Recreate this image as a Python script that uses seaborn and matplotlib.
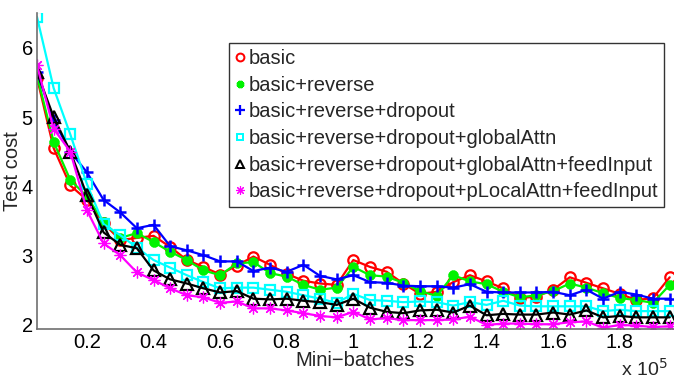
import numpy as np
import pandas as pd
import matplotlib
matplotlib.use("Agg")
import matplotlib.pyplot as plt
import seaborn as sns
from matplotlib.lines import Line2D

sns.set_style("white")
plt.rcParams['font.family'] = ['Liberation Sans', 'DejaVu Sans']

# Mini-batches (x 10^5)
batches = [round(0.05 * i, 2) for i in range(1, 40)]

basic = [5.57, 4.55, 4.01, 3.80, 3.46, 3.22, 3.25, 3.28, 3.12, 2.93, 2.83, 2.72, 2.85,
         2.98, 2.86, 2.73, 2.63, 2.59, 2.57, 2.93, 2.83, 2.76, 2.59, 2.44, 2.47, 2.61,
         2.71, 2.62, 2.52, 2.38, 2.40, 2.50, 2.68, 2.60, 2.52, 2.44, 2.35, 2.38, 2.68]
reverse = [5.60, 4.64, 4.09, 3.85, 3.48, 3.25, 3.32, 3.19, 3.05, 2.93, 2.78, 2.71, 2.88,
           2.90, 2.74, 2.69, 2.57, 2.50, 2.53, 2.83, 2.71, 2.69, 2.60, 2.48, 2.41, 2.71,
           2.62, 2.58, 2.47, 2.39, 2.42, 2.48, 2.59, 2.53, 2.45, 2.38, 2.35, 2.31, 2.57]
dropout = [5.65, 4.95, 4.50, 4.20, 3.80, 3.62, 3.39, 3.44, 3.13, 3.07, 3.00, 2.91, 2.91,
           2.77, 2.82, 2.76, 2.86, 2.70, 2.65, 2.71, 2.61, 2.60, 2.56, 2.55, 2.55, 2.53,
           2.58, 2.47, 2.46, 2.46, 2.46, 2.47, 2.42, 2.50, 2.37, 2.47, 2.43, 2.37, 2.37]
global_attn = [6.45, 5.42, 4.75, 4.03, 3.45, 3.29, 3.11, 2.93, 2.82, 2.71, 2.61, 2.52, 2.53,
               2.53, 2.50, 2.47, 2.42, 2.37, 2.31, 2.44, 2.35, 2.34, 2.32, 2.33, 2.32, 2.27,
               2.32, 2.28, 2.34, 2.27, 2.26, 2.26, 2.26, 2.26, 2.19, 2.21, 2.19, 2.19, 2.19]
global_feed = [5.65, 5.00, 4.50, 3.87, 3.33, 3.15, 3.10, 2.78, 2.65, 2.59, 2.52, 2.46, 2.48,
               2.37, 2.36, 2.37, 2.34, 2.32, 2.28, 2.37, 2.24, 2.18, 2.16, 2.20, 2.21, 2.17,
               2.27, 2.13, 2.15, 2.14, 2.14, 2.17, 2.14, 2.20, 2.10, 2.12, 2.10, 2.10, 2.10]
plocal_feed = [5.75, 4.83, 4.50, 3.65, 3.17, 3.00, 2.75, 2.64, 2.52, 2.42, 2.39, 2.31, 2.33,
               2.23, 2.23, 2.20, 2.16, 2.12, 2.10, 2.18, 2.07, 2.09, 2.06, 2.06, 2.06, 2.07,
               2.11, 1.99, 2.01, 2.01, 2.00, 2.00, 2.03, 2.04, 1.95, 1.99, 1.98, 1.96, 1.97]

labels = ["basic", "basic+reverse", "basic+reverse+dropout",
          "basic+reverse+dropout+globalAttn",
          "basic+reverse+dropout+globalAttn+feedInput",
          "basic+reverse+dropout+pLocalAttn+feedInput"]
series = [basic, reverse, dropout, global_attn, global_feed, plocal_feed]

styles = [
    dict(color=(1, 0, 0), marker='o', mfc='none', mew=1.6, ms=7.5),
    dict(color=(0, 0.95, 0), marker=(8, 2, 0), mfc=(0, 0.95, 0), mew=2.6, ms=7),
    dict(color=(0, 0, 1), marker='+', mfc='none', mew=1.8, ms=9),
    dict(color=(0, 1, 1), marker='s', mfc='none', mew=1.6, ms=6.5),
    dict(color=(0, 0, 0), marker='^', mfc='none', mew=1.6, ms=8),
    dict(color=(1, 0, 1), marker=(8, 2, 0), mfc='none', mew=0.9, ms=8.5),
]

fig = plt.figure(figsize=(6.81, 3.84), dpi=100)
ax = fig.add_axes([0.0543, 0.143, 0.934, 0.822])

handles = []
for lab, vals, st in zip(labels, series, styles):
    df = pd.DataFrame({"x": batches, "y": vals})
    sns.lineplot(data=df, x="x", y="y", ax=ax, color=st['color'], linewidth=1.6,
                 marker=st['marker'], markersize=st['ms'], markerfacecolor=st['mfc'],
                 markeredgecolor=st['color'], markeredgewidth=st['mew'],
                 legend=False, errorbar=None)
    handles.append(Line2D([], [], linestyle='none', color=st['color'], marker=st['marker'],
                          markersize=st['ms'] * 0.75, markerfacecolor=st['mfc'],
                          markeredgecolor=st['color'], markeredgewidth=st['mew'] * 0.9,
                          label=lab))

ax.set_xlim(0.05, 1.96)
ax.set_ylim(1.93, 6.5)
ax.set_xticks([0.2, 0.4, 0.6, 0.8, 1.0, 1.2, 1.4, 1.6, 1.8])
ax.set_xticklabels(["0.2", "0.4", "0.6", "0.8", "1", "1.2", "1.4", "1.6", "1.8"])
ax.set_yticks([2, 3, 4, 5, 6])
ax.set_yticklabels(["2", "3", "4", "5", "6"])
ax.tick_params(axis='both', direction='in', length=5, width=1, colors='#707070',
               labelcolor='black', labelsize=14.5, pad=3)
for s in ['top', 'right']:
    ax.spines[s].set_visible(False)
for s in ['left', 'bottom']:
    ax.spines[s].set_color('#707070')
    ax.spines[s].set_linewidth(1.2)

ax.set_xlabel("Mini\u2212batches", fontsize=14.5, labelpad=-1)
ax.set_ylabel("Test cost", fontsize=14.5, labelpad=0)
fig.text(0.912, 0.01, "x 10$^{5}$", fontsize=14, ha='left', va='bottom')

leg = ax.legend(handles=handles, loc='upper right', bbox_to_anchor=(0.986, 0.906),
                borderaxespad=0, fontsize=14.5, frameon=True, fancybox=False,
                handlelength=0.5, handletextpad=0.15, labelspacing=0.38,
                borderpad=0.3, edgecolor='black')
leg.get_frame().set_linewidth(1.0)

fig.savefig("out.png", dpi=100)
